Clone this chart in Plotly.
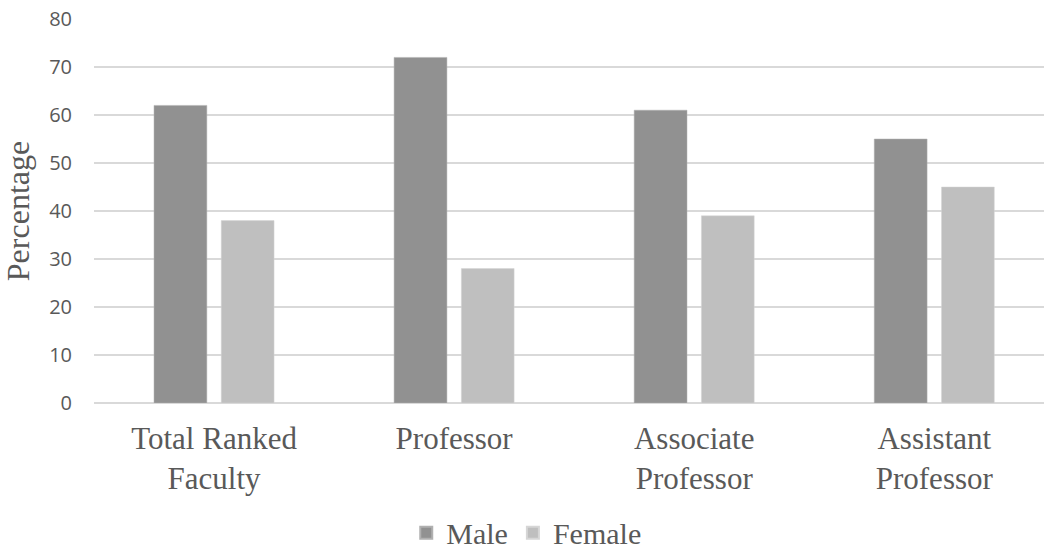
import plotly.graph_objects as go

# Share of ranked faculty by gender and rank
categories = ["Total Ranked<br>Faculty", "Professor", "Associate<br>Professor", "Assistant<br>Professor"]
male = [62, 72, 61, 55]
female = [38, 28, 39, 45]
y_ticks = [0, 10, 20, 30, 40, 50, 60, 70, 80]

serif = "Liberation Serif"
sans = "Open Sans"
text_color = "#595959"

fig = go.Figure()
fig.add_trace(go.Bar(
    x=list(range(len(categories))), y=male, name="Male",
    marker=dict(color="#919191", line=dict(color="#b0b0b0", width=0.5)),
    width=0.22, offset=-0.25,
))
fig.add_trace(go.Bar(
    x=list(range(len(categories))), y=female, name="Female",
    marker=dict(color="#bfbfbf", line=dict(color="#d6d6d6", width=0.5)),
    width=0.22, offset=0.03,
))

fig.update_layout(
    width=1044, height=551,
    margin=dict(l=94, r=0, t=19, b=148, autoexpand=False),
    paper_bgcolor="white", plot_bgcolor="white",
    barmode="overlay",
    showlegend=True,
    legend=dict(
        orientation="h", x=0.455, xanchor="center", y=-0.338, yanchor="middle",
        font=dict(family=serif, size=30, color=text_color),
        itemsizing="constant", itemwidth=30, tracegroupgap=0,
    ),
    xaxis=dict(
        range=[-0.5, 3.457], automargin=False,
        tickmode="array", tickvals=list(range(len(categories))), ticktext=categories,
        tickfont=dict(family=serif, size=31, color=text_color),
        showgrid=False, zeroline=False, showline=False,
        ticks="", ticklabelstandoff=14,
    ),
    yaxis=dict(
        range=[0, 80], automargin=False,
        tickmode="array", tickvals=y_ticks,
        tickfont=dict(family=sans, size=20, color=text_color),
        showgrid=True, gridcolor="#d9d9d9", gridwidth=1.5,
        zeroline=True, zerolinecolor="#d9d9d9", zerolinewidth=1.5,
        showline=False, ticks="", ticklabelstandoff=21,
        title=dict(text="Percentage", font=dict(family=serif, size=32, color=text_color), standoff=12),
    ),
)

fig.write_html("out.html")
